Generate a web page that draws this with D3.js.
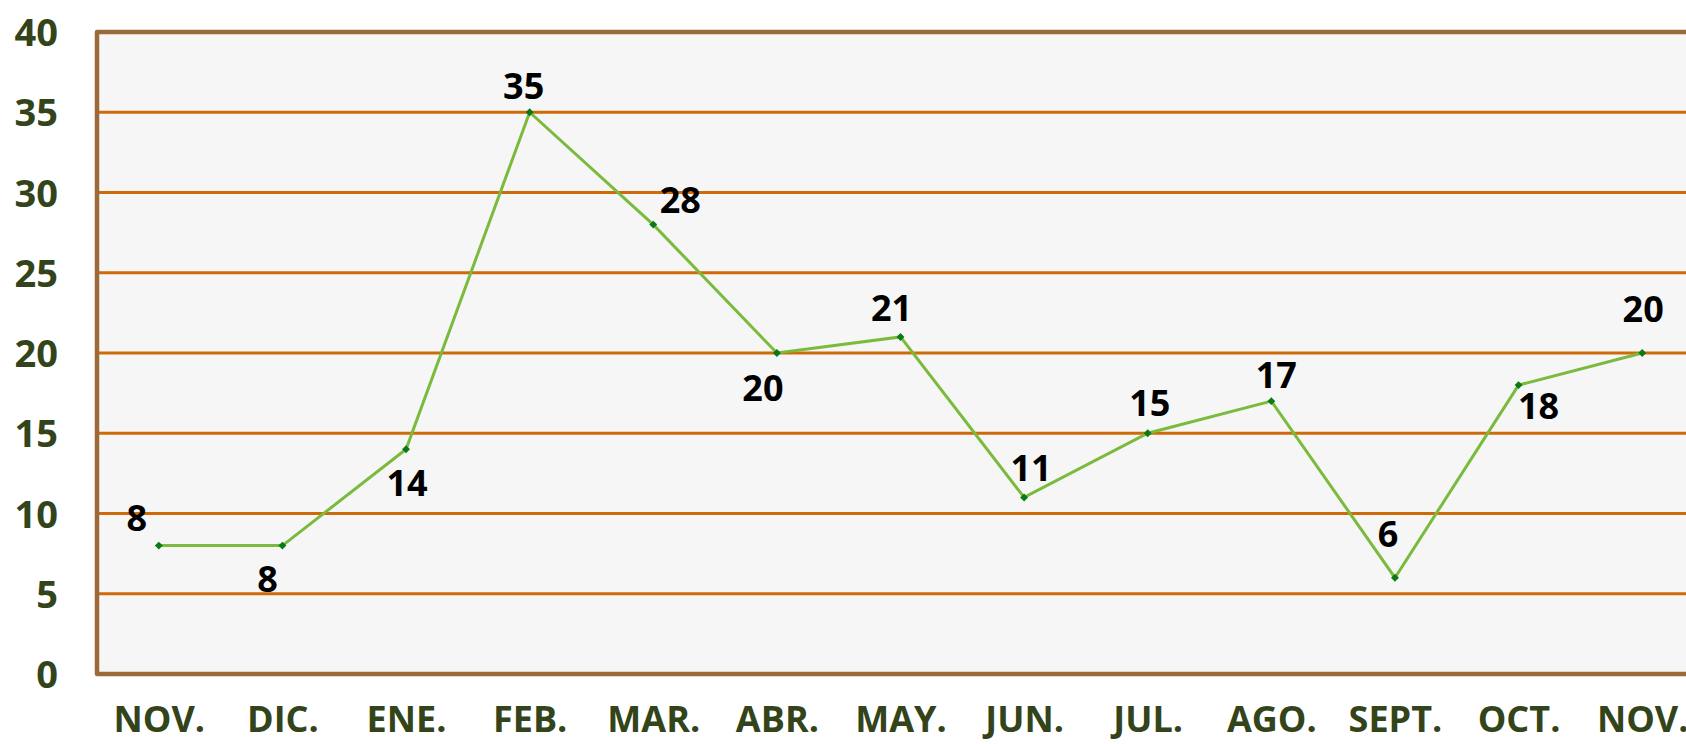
<!DOCTYPE html>
<html>
<head>
<meta charset="utf-8">
<script src="https://cdn.jsdelivr.net/npm/d3@7"></script>
<style>
  html, body { margin: 0; padding: 0; background: #ffffff; }
  svg { display: block; }
</style>
</head>
<body>
<svg id="chart" width="1686" height="744"></svg>
<script>
// ---- data ----
const categories = ["NOV.", "DIC.", "ENE.", "FEB.", "MAR.", "ABR.", "MAY.", "JUN.", "JUL.", "AGO.", "SEPT.", "OCT.", "NOV."];
const values = [8, 8, 14, 35, 28, 20, 21, 11, 15, 17, 6, 18, 20];
const yTicks = [0, 5, 10, 15, 20, 25, 30, 35, 40];
// label placement offsets (px) relative to each point
const labelOffsets = [[-22, -28], [-15, 33], [1, 34], [-6, -26], [27, -25], [-14, 35], [-9, -29], [7, -29], [2, -30], [5, -26], [-7, -44], [20, 21], [1, -44]];

const svg = d3.select("#chart");
const pLeft = 97, pRight = 1704, pTop = 32, pBottom = 674;

const x = d3.scalePoint().domain(d3.range(categories.length)).range([pLeft, pRight]).padding(0.5);
const y = d3.scaleLinear().domain([0, 40]).range([pBottom, pTop]);

// plot background
svg.append("rect")
  .attr("x", pLeft).attr("y", pTop)
  .attr("width", pRight - pLeft).attr("height", pBottom - pTop)
  .attr("fill", "#f6f6f6");

// gridlines
svg.append("g").selectAll("line")
  .data(yTicks.filter(d => d > 0 && d < 40))
  .join("line")
  .attr("x1", pLeft).attr("x2", pRight)
  .attr("y1", d => y(d)).attr("y2", d => y(d))
  .attr("stroke", "#cf6a08").attr("stroke-width", 3);

// border (left, top, bottom)
svg.append("path")
  .attr("d", `M${pRight},${pTop} L${pLeft},${pTop} L${pLeft},${pBottom} L${pRight},${pBottom}`)
  .attr("fill", "none")
  .attr("stroke", "#9c6a38").attr("stroke-width", 4.5)
  .attr("stroke-linejoin", "round");

// y axis
const yAxis = d3.axisLeft(y).tickValues(yTicks).tickSize(0).tickPadding(0);
const gy = svg.append("g").attr("transform", `translate(${pLeft - 39},0)`).call(yAxis);
gy.select(".domain").remove();
gy.selectAll("text")
  .attr("font-family", "'Open Sans', sans-serif")
  .attr("font-weight", "bold")
  .attr("font-size", 38)
  .attr("fill", "#33441a")
  .attr("dy", "0.36em");

// x axis
const xAxis = d3.axisBottom(x).tickFormat(i => categories[i]).tickSize(0).tickPadding(0);
const gx = svg.append("g").attr("transform", `translate(0,${pBottom})`).call(xAxis);
gx.select(".domain").remove();
gx.selectAll("text")
  .attr("font-family", "'Open Sans', sans-serif")
  .attr("font-weight", "bold")
  .attr("font-size", 36)
  .attr("fill", "#33441a")
  .attr("y", 58).attr("dy", 0);

// line
const line = d3.line().x((d, i) => x(i)).y(d => y(d));
svg.append("path")
  .datum(values)
  .attr("d", line)
  .attr("fill", "none")
  .attr("stroke", "#7aba3c")
  .attr("stroke-width", 3);

// markers (diamonds)
svg.append("g").selectAll("path")
  .data(values)
  .join("path")
  .attr("d", d3.symbol().type(d3.symbolDiamond2).size(40))
  .attr("transform", (d, i) => `translate(${x(i)},${y(d)})`)
  .attr("fill", "#0b7a16");

// data labels
svg.append("g").selectAll("text")
  .data(values)
  .join("text")
  .attr("x", (d, i) => x(i) + labelOffsets[i][0])
  .attr("y", (d, i) => y(d) + labelOffsets[i][1])
  .attr("dy", "0.36em")
  .attr("text-anchor", "middle")
  .attr("font-family", "'Open Sans', sans-serif")
  .attr("font-weight", "bold")
  .attr("font-size", 36)
  .attr("fill", "#000000")
  .text(d => d);
</script>
</body>
</html>
